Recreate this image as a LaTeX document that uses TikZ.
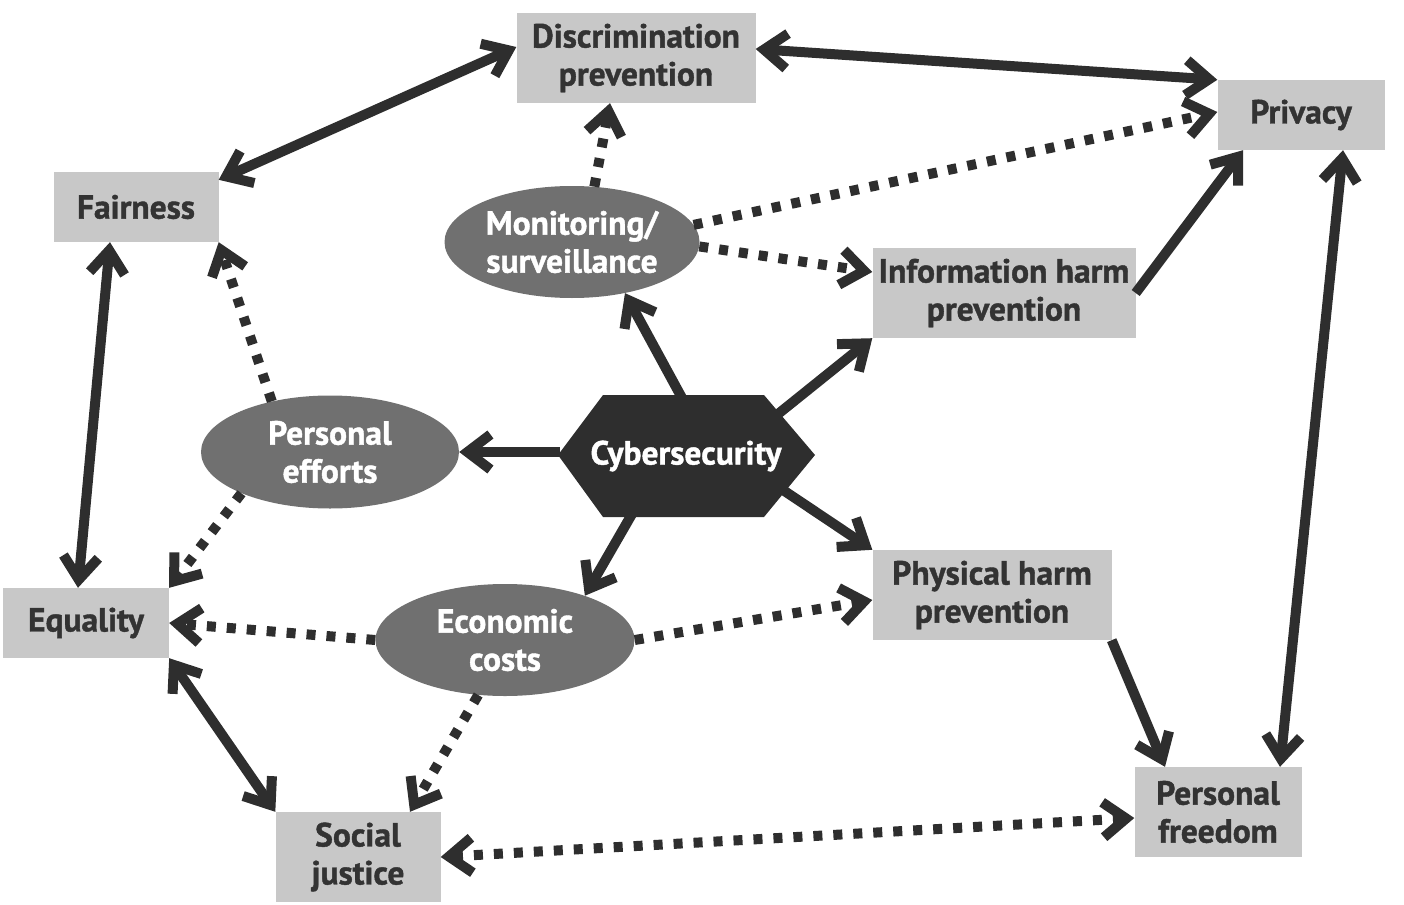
\documentclass[tikz,border=0pt]{standalone}
\usepackage{fontspec}
\newfontfamily\lblfont{PT Sans Bold}[FakeBold=1.2]
\usetikzlibrary{arrows.meta,shapes.geometric}
\definecolor{boxgray}{HTML}{C8C8C8}
\definecolor{ellgray}{HTML}{707070}
\definecolor{ink}{HTML}{2E2E2E}
\definecolor{txt}{HTML}{333333}
\begin{document}
\begin{tikzpicture}[x=1pt,y=-1pt,
  lbl/.style={font=\lblfont\fontsize{33.5}{38}\selectfont, align=center},
  box/.style={lbl, fill=boxgray, inner sep=0pt, text=txt},
  ell/.style={lbl, ellipse, fill=ellgray, inner sep=0pt, text=white, minimum width=257pt, minimum height=112pt},
  conn/.style={draw=ink, line width=10pt},
  dots/.style={conn, dash pattern=on 9pt off 11pt},
  >={Straight Barb[length=23pt,width=35pt,line width=10pt,line cap=butt,line join=miter]}
]
\useasboundingbox (0,0) rectangle (1404,904);

% boxes
\node[box, minimum width=239pt, minimum height=90pt] (disc) at (636,58) {Discrimination\\prevention};
\node[box, minimum width=167pt, minimum height=70pt] (priv) at (1301,115) {Privacy};
\node[box, minimum width=165pt, minimum height=70pt] (fair) at (136,207) {Fairness};
\node[box, minimum width=263pt, minimum height=90pt] (info) at (1004,293) {Information harm\\prevention};
\node[box, minimum width=239pt, minimum height=90pt] (phys) at (992,595) {Physical harm\\prevention};
\node[box, minimum width=166pt, minimum height=70pt] (equ) at (86,623) {Equality};
\node[box, minimum width=167pt, minimum height=90pt] (free) at (1218,812) {Personal\\freedom};
\node[box, minimum width=165pt, minimum height=90pt] (soc) at (358,857) {Social\\justice};

% ellipses
\node[ell, minimum width=255pt] (mon) at (572,242) {Monitoring/\\surveillance};
\node[ell, minimum width=258pt, minimum height=113pt] (pers) at (330,452) {Personal\\efforts};
\node[ell, minimum width=259pt] (econ) at (505,640) {Economic\\costs};

% hexagon attachment points
\coordinate (cT) at (682,398);
\coordinate (cNE) at (778,414);
\coordinate (cW) at (560,452);
\coordinate (cS) at (632,514);
\coordinate (cSE) at (783,490);

% solid arrows from Cybersecurity
\draw[conn,->] (cT) -- (mon.-44);
\draw[conn,->] (cNE) -- (info.south west);
\draw[conn,->] (cW) -- (pers.east);
\draw[conn,->] (cS) -- (econ.29);
\draw[conn,->] (cSE) -- (phys.north west);

% other solid arrows
\draw[conn,->] (info.east) -- ([xshift=-58pt]priv.south);
\draw[conn,->] (phys.south east) -- ([xshift=-53pt]free.north);
\draw[conn,<->] ([yshift=11pt]disc.west) -- ([yshift=-8pt]fair.north east);
\draw[conn,<->] ([yshift=9pt]disc.east) -- (priv.north west);
\draw[conn,<->] ([xshift=-26pt]fair.south) -- ([xshift=-8pt]equ.north);
\draw[conn,<->] (equ.south east) -- (soc.north west);
\draw[conn,<->] ([xshift=42pt]priv.south) -- ([xshift=62pt]free.north);

% dotted arrows
\draw[dots,->] (mon.68) -- ([xshift=-26pt]disc.south);
\draw[dots,->] (mon.8) -- ([yshift=3pt]priv.west);
\draw[dots,->] (mon.-2) -- ([yshift=21pt]info.west);
\draw[dots,->] (pers.139) -- (fair.south east);
\draw[dots,->] (pers.-155) -- (equ.north east);
\draw[dots,->] (econ.west) -- (equ.east);
\draw[dots,->] (econ.east) -- ([yshift=-5pt]phys.west);
\draw[dots,->] (econ.-116) -- ([xshift=52pt]soc.north);
\draw[dots,<->] (soc.east) -- ([yshift=-6pt]free.west);

% Cybersecurity hexagon
\fill[ink] (558,455) -- (603,395) -- (764,395) -- (815,455) -- (764,517) -- (603,517) -- cycle;
\node[lbl, text=white] (cyb) at (686,456) {Cybersecurity};
\end{tikzpicture}
\end{document}
